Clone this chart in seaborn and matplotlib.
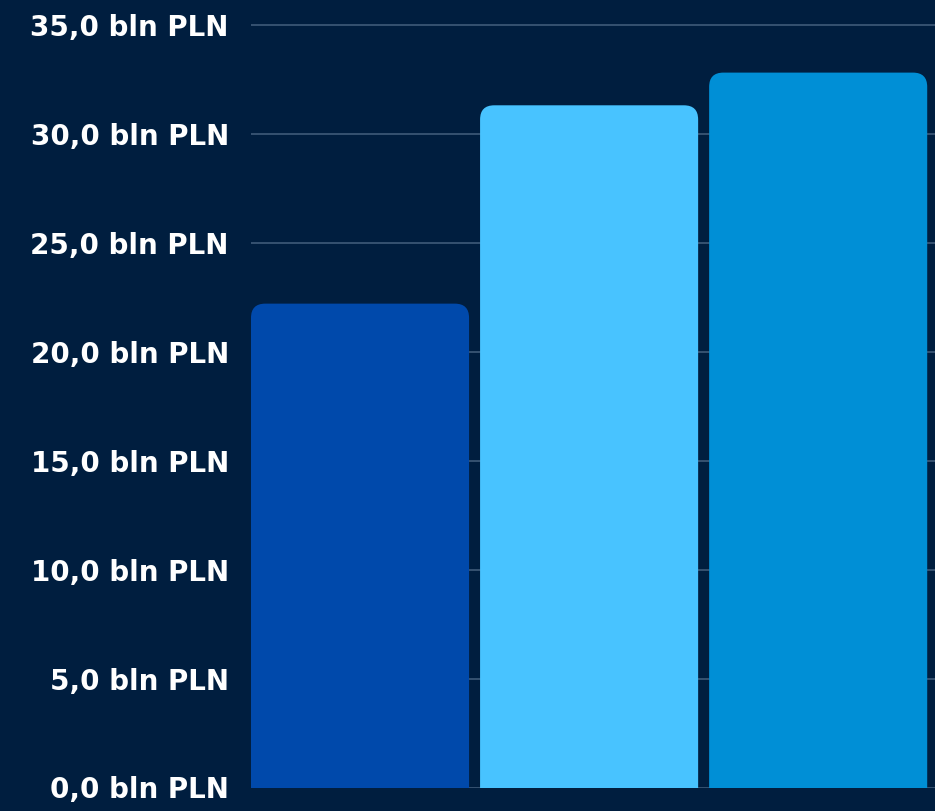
import matplotlib
matplotlib.use("Agg")
import matplotlib.pyplot as plt
import seaborn as sns
import pandas as pd
from matplotlib.patches import FancyBboxPatch

categories = ["A", "B", "C"]
values = [22.2, 31.3, 32.8]
colors = ["#0049ab", "#48c3ff", "#008fd6"]
ticks = [0, 5, 10, 15, 20, 25, 30, 35]
tick_labels = [f"{t:.1f}".replace(".", ",") + " bln PLN" for t in ticks]

bg = "#001e3f"
sns.set_theme(style="dark")
plt.rcParams["font.family"] = ["DejaVu Sans"]

df = pd.DataFrame({"cat": categories, "val": values})

fig = plt.figure(figsize=(9.35, 8.11), dpi=100, facecolor=bg)
ax = fig.add_axes([251 / 935, 23.5 / 811, 684 / 935, 763.5 / 811])
ax.set_facecolor(bg)

sns.barplot(data=df, x="cat", y="val", hue="cat", palette=colors,
            saturation=1, width=0.952, legend=False, ax=ax, zorder=2)

ax.set_xlim(-0.476, 2.51)
ax.set_ylim(0, 35.03)

# swap each bar for one with rounded top corners
r_x = 0.062
aspect = (35.03 / 763.5) / (2.986 / 684)
for p in list(ax.patches):
    x, w, h = p.get_x(), p.get_width(), p.get_height()
    fc = p.get_facecolor()
    p.set_visible(False)
    box = FancyBboxPatch((x, -2), w, h + 2,
                         boxstyle=f"round,pad=0,rounding_size={r_x}",
                         mutation_aspect=aspect, facecolor=fc,
                         edgecolor="none", zorder=2)
    ax.add_patch(box)

ax.set_yticks(ticks)
ax.set_yticklabels(tick_labels)
ax.yaxis.grid(True, color="#44607e", linewidth=1.1, zorder=0)
ax.xaxis.grid(False)
ax.set_xticks([])
ax.set_xlabel("")
ax.set_ylabel("")
ax.tick_params(axis="y", length=0, pad=16, labelcolor="white", labelsize=20)
for lbl in ax.get_yticklabels():
    lbl.set_fontweight("bold")
for s in ax.spines.values():
    s.set_visible(False)

fig.savefig("out.png", dpi=100, facecolor=bg)
